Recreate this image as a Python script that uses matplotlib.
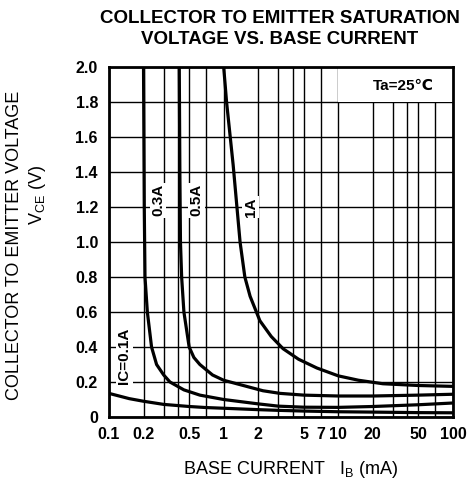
import matplotlib
matplotlib.use("Agg")
import matplotlib.pyplot as plt
from matplotlib.patches import Rectangle

plt.rcParams['font.family'] = ['Liberation Sans', 'DejaVu Sans']

# base current (mA) vs collector-emitter saturation voltage (V)
ib_01 = [0.1, 0.15, 0.2, 0.3, 0.5, 0.7, 1, 2, 3, 5, 10, 20, 50, 100]
vce_01 = [0.135, 0.105, 0.09, 0.072, 0.06, 0.054, 0.05, 0.042, 0.038, 0.034, 0.03, 0.028, 0.025, 0.024]

ib_03 = [0.2, 0.203, 0.206, 0.216, 0.235, 0.26, 0.3, 0.34, 0.45, 0.62, 1.0, 2, 3, 5, 10, 20, 50, 100]
vce_03 = [2.0, 1.2, 0.8, 0.6, 0.4, 0.3, 0.24, 0.2, 0.155, 0.125, 0.1, 0.075, 0.062, 0.056, 0.055, 0.06, 0.07, 0.08]

ib_05 = [0.41, 0.415, 0.42, 0.43, 0.45, 0.5, 0.55, 0.62, 0.8, 1.0, 1.3, 2.2, 3.1, 5, 10, 20, 50, 100]
vce_05 = [2.0, 1.4, 1.0, 0.8, 0.6, 0.4, 0.34, 0.3, 0.24, 0.21, 0.19, 0.15, 0.135, 0.125, 0.12, 0.12, 0.125, 0.13]

ib_1 = [1.0, 1.03, 1.06, 1.21, 1.39, 1.53, 1.7, 2.07, 2.6, 3.3, 4.5, 6.5, 10, 15, 24.5, 50, 100]
vce_1 = [2.0, 1.9, 1.8, 1.44, 1.0, 0.8, 0.69, 0.55, 0.46, 0.39, 0.33, 0.28, 0.235, 0.21, 0.19, 0.18, 0.175]

curves = [(ib_01, vce_01), (ib_03, vce_03), (ib_05, vce_05), (ib_1, vce_1)]

# curve labels: text, x, y
curve_labels = [("IC=0.1A", 0.136, 0.35),
                ("0.3A", 0.268, 1.24),
                ("0.5A", 0.58, 1.24),
                ("1A", 1.72, 1.20)]

x_major = [0.1, 0.2, 0.5, 1, 2, 5, 7, 10, 20, 50, 100]
x_major_labels = ["0.1", "0.2", "0.5", "1", "2", "5", "7", "10", "20", "50", "100"]
x_minor = [0.3, 0.4, 0.7, 3, 4, 30, 40, 70]
y_ticks = [0, 0.2, 0.4, 0.6, 0.8, 1.0, 1.2, 1.4, 1.6, 1.8, 2.0]
y_labels = ["0", "0.2", "0.4", "0.6", "0.8", "1.0", "1.2", "1.4", "1.6", "1.8", "2.0"]

fig = plt.figure(figsize=(4.76, 4.88), dpi=100)
ax = fig.add_axes([109 / 476, 71 / 488, 344 / 476, 350 / 488])

ax.set_xscale('log')
ax.set_xlim(0.1, 100)
ax.set_ylim(0, 2.0)

ax.set_xticks(x_major)
ax.set_xticklabels(x_major_labels)
ax.set_xticks(x_minor, minor=True)
ax.set_xticklabels([], minor=True)
ax.set_yticks(y_ticks)
ax.set_yticklabels(y_labels)
ax.tick_params(which='both', length=0)
ax.tick_params(axis='x', pad=7)
ax.tick_params(axis='y', pad=8)
for lab in ax.get_xticklabels() + ax.get_yticklabels():
    lab.set_fontsize(11.5)
    lab.set_fontweight('bold')

ax.grid(True, which='both', color='black', linewidth=1.0)
ax.set_axisbelow(True)
for sp in ax.spines.values():
    sp.set_linewidth(2.0)

for xs, ys in curves:
    ax.plot(xs, ys, color='black', linewidth=2.3, solid_capstyle='butt', zorder=3)

for txt, x, y in curve_labels:
    ax.text(x, y, txt, rotation=90, ha='center', va='center', fontsize=11, fontweight='bold',
            bbox=dict(facecolor='white', edgecolor='none', pad=1.0), zorder=4)

# temperature note box
ax.add_patch(Rectangle((10, 1.8), 90, 0.2, facecolor='white', edgecolor='none', zorder=2))
ax.text(37, 1.89, "Ta=25\u2103", ha='center', va='center', fontsize=11, fontweight='bold', zorder=4)

fig.text(280 / 476, 1 - 29 / 488, "COLLECTOR TO EMITTER SATURATION\nVOLTAGE VS. BASE CURRENT",
         ha='center', va='center', fontsize=13.5, fontweight='bold', linespacing=1.35)

fig.text(15 / 476, 1 - 245 / 488, "COLLECTOR TO EMITTER VOLTAGE", rotation=90,
         ha='center', va='center', fontsize=13)
fig.text(38 / 476, 1 - 195 / 488, r"V$_{\mathregular{CE}}$ (V)", rotation=90,
         ha='center', va='center', fontsize=13)
fig.text(291 / 476, 1 - 469 / 488, r"BASE CURRENT   I$_{\mathregular{B}}$ (mA)",
         ha='center', va='center', fontsize=13)

fig.savefig("out.png", dpi=100)
